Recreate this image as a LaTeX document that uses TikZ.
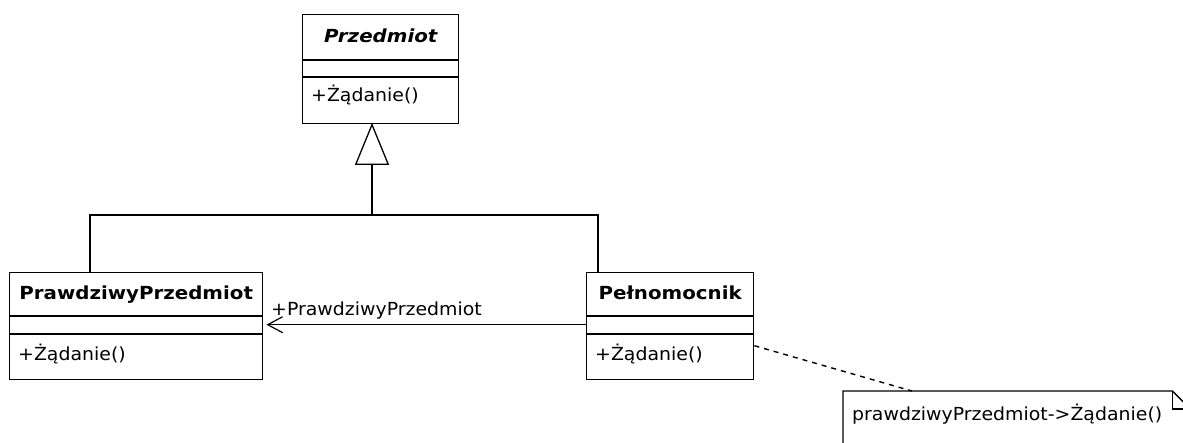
\documentclass[tikz,border=0pt]{standalone}
\usepackage{fontspec}
\usetikzlibrary{arrows.meta,calc}
% Regular text slightly widened, bold text a little wider still
\newfontfamily\umlnarrow{DejaVu Sans}[FakeStretch=1.05]
\newfontfamily\umlwide{DejaVu Sans}[FakeStretch=1.1]
\newcommand\umlreg{\umlnarrow\fontsize{18}{21}\selectfont}
\newcommand\umlbold{\umlwide\bfseries\fontsize{18}{21}\selectfont}
\newcommand\umlabstract{\umlwide\bfseries\itshape\fontsize{18}{21}\selectfont}

\tikzset{
  edge/.style={line width=1.4pt, draw=black},
  umlclass/.style={draw=black, line width=1.4pt, fill=white, inner sep=0pt, anchor=north west},
  classname/.style={inner sep=0pt, anchor=base, font=\umlbold},
  member/.style={inner sep=0pt, anchor=base west, font=\umlreg},
}

\begin{document}
\begin{tikzpicture}[x=1pt, y=-1pt]
  \useasboundingbox (0,0) rectangle (1183,442);
  \fill[white] (0,0) rectangle (1183,442);
  \clip (0,0) rectangle (1183,442);

  % abstract class Przedmiot
  \node[umlclass, minimum width=156pt, minimum height=109pt] (przedmiot) at (302,14) {};
  \draw[edge] ([yshift=-46pt]przedmiot.north west) -- ([yshift=-46pt]przedmiot.north east);
  \draw[edge] ([yshift=-63pt]przedmiot.north west) -- ([yshift=-63pt]przedmiot.north east);
  \node[classname, font=\umlabstract] (przedmiot-name) at ([yshift=-28pt]przedmiot.north) {Przedmiot};
  \node[member] (przedmiot-op) at ([xshift=9pt, yshift=-87pt]przedmiot.north west) {+Żądanie()};

  % class PrawdziwyPrzedmiot
  \node[umlclass, minimum width=253pt, minimum height=107pt] (prawdziwy) at (9,272) {};
  \draw[edge] ([yshift=-44pt]prawdziwy.north west) -- ([yshift=-44pt]prawdziwy.north east);
  \draw[edge] ([yshift=-62pt]prawdziwy.north west) -- ([yshift=-62pt]prawdziwy.north east);
  \node[classname] (prawdziwy-name) at ([yshift=-27pt]prawdziwy.north) {PrawdziwyPrzedmiot};
  \node[member] (prawdziwy-op) at ([xshift=9pt, yshift=-88pt]prawdziwy.north west) {+Żądanie()};

  % class Pełnomocnik
  \node[umlclass, minimum width=167pt, minimum height=107pt] (pel) at (586,272) {};
  \draw[edge] ([yshift=-44pt]pel.north west) -- ([yshift=-44pt]pel.north east);
  \draw[edge] ([yshift=-62pt]pel.north west) -- ([yshift=-62pt]pel.north east);
  \node[classname] (pel-name) at ([yshift=-27pt]pel.north) {Pełnomocnik};
  \node[member] (pel-op) at ([xshift=9pt, yshift=-88pt]pel.north west) {+Żądanie()};

  % generalization
  \coordinate (join) at (372,215);
  \draw[edge, -{Triangle[open, length=42pt, width=34pt, line width=1.3pt]}, shorten >=-1.5pt] (join) -- (join |- przedmiot.south);
  \draw[edge] ([xshift=81pt]prawdziwy.north west) |- (join) -| ([xshift=12pt]pel.north west);

  % association
  \draw[edge, -{Straight Barb[length=15pt, width=16pt, line width=1.2pt]}, shorten >=3pt]
    ([yshift=1.5pt]pel.west) -- ([yshift=1.5pt]prawdziwy.east);
  \node[member] (rola) at (271,315) {+PrawdziwyPrzedmiot};

  % note
  \node[inner sep=0pt, minimum width=347pt, minimum height=60pt, anchor=north west] (notatka) at (843,391) {};
  \draw[edge] (notatka.south west) -- (notatka.north west) -- ([xshift=-18pt]notatka.north east)
    -- ([yshift=-18pt]notatka.north east) -- (notatka.south east);
  \draw[edge] ([xshift=-18pt]notatka.north east) |- ([yshift=-18pt]notatka.north east);
  \node[member] (notatka-text) at ([xshift=9pt, yshift=-29pt]notatka.north west) {prawdziwyPrzedmiot->Żądanie()};
  \draw[edge, dash pattern=on 5pt off 5pt] ([yshift=-19.5pt]pel.east) -- ([xshift=69pt]notatka.north west);
\end{tikzpicture}
\end{document}
